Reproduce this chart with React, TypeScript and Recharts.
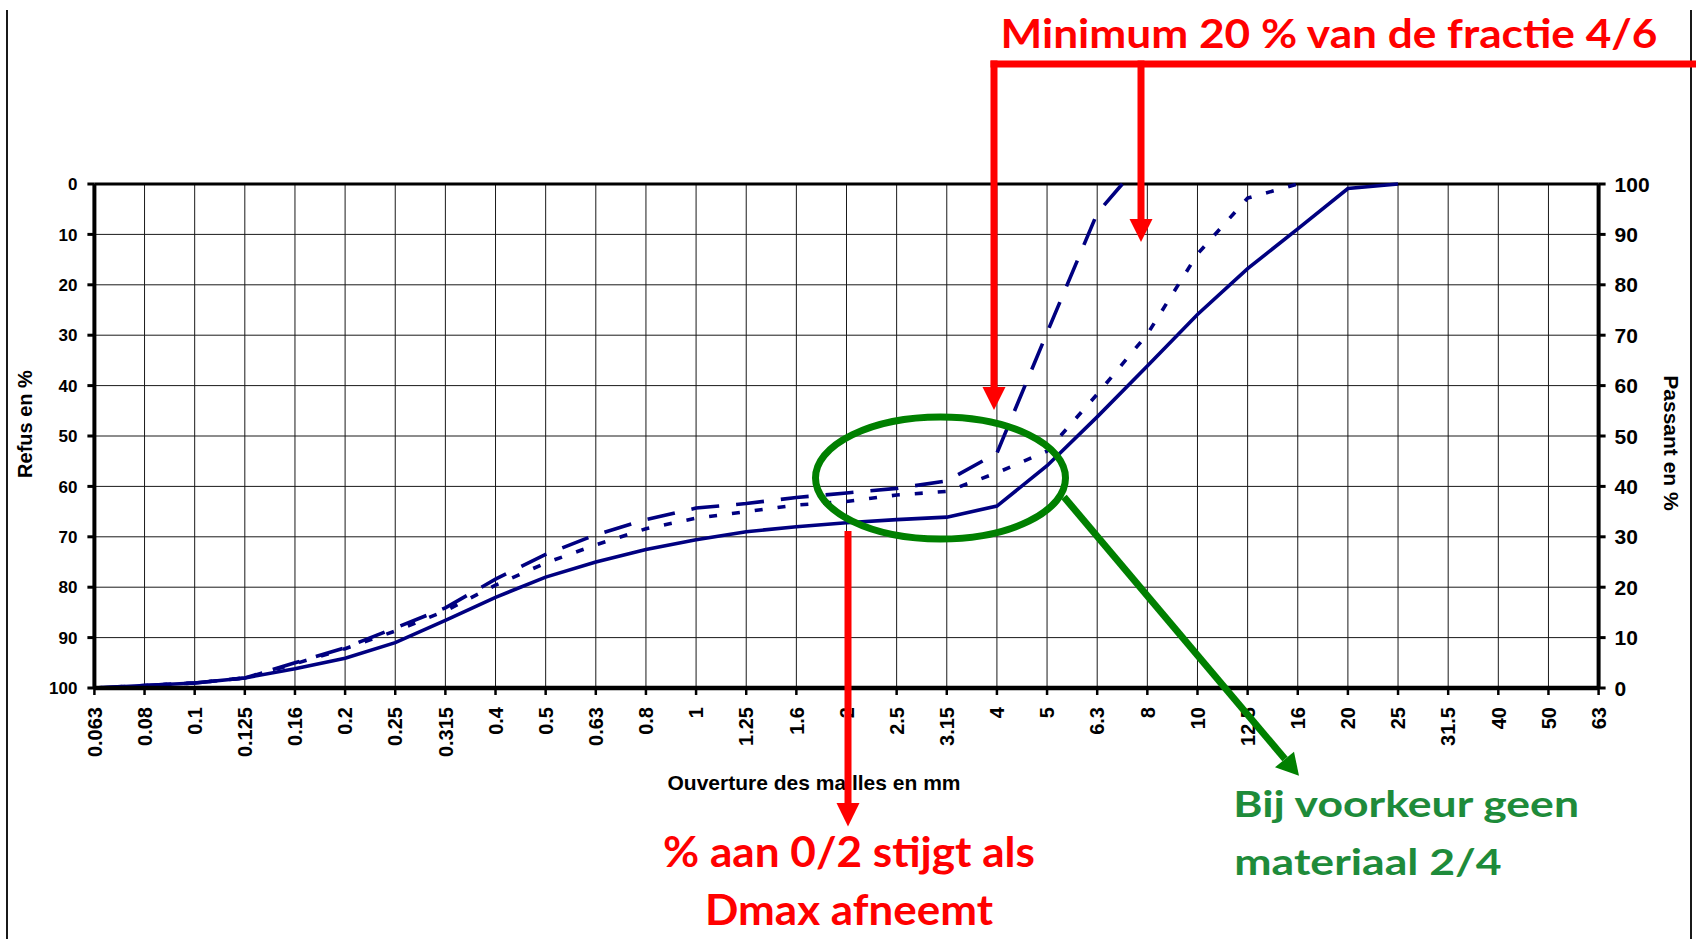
import React from 'react';
import { LineChart, Line, XAxis, YAxis, CartesianGrid, ReferenceLine, Label } from 'recharts';

// Sieve openings (mm) — categories of the x axis, equally spaced (log series)
const sieveLabels = ['0.063', '0.08', '0.1', '0.125', '0.16', '0.2', '0.25', '0.315', '0.4', '0.5', '0.63', '0.8', '1', '1.25', '1.6', '2', '2.5', '3.15', '4', '5', '6.3', '8', '10', '12.5', '16', '20', '25', '31.5', '40', '50', '63'];

// Passing (%) per sieve
const passSolid = [0, 0.5, 1, 2, 3.8, 5.9, 9, 13.4, 18, 22, 25, 27.5, 29.4, 31, 32, 32.8, 33.4, 33.9, 36.1, 44.1, 53.8, 63.9, 74.1, 83.2, 91.1, 99.1, 100];
const passDashed = [0, 0.5, 1, 2, 5, 8, 11.9, 15.9, 21.6, 26.5, 30.4, 33.4, 35.7, 36.6, 37.8, 38.7, 39.6, 41.1, 46.6, 70.5, 94.2];
const passDotted = [0, 0.5, 1, 2, 4.8, 7.8, 11.3, 15.3, 20.4, 24.8, 28.4, 31.6, 33.7, 35, 36.3, 37, 38.3, 39, 42.7, 47, 58.3, 70.2, 86.1, 97.2, 100];
// the dashed curve reaches 100 % between 6.3 and 8 mm
const dashedEndMm = 7.1;
const dashedEndPass = 100;

// left axis shows "refus" (= 100 - passant), right axis shows "passant"
const refusTicks = [0, 10, 20, 30, 40, 50, 60, 70, 80, 90, 100];
const passTicks = [0, 10, 20, 30, 40, 50, 60, 70, 80, 90, 100];

const sieveIndexTicks = sieveLabels.map((_, i) => i);
const toIndex = (mm: number) => {
  const v = sieveLabels.map(Number);
  for (let i = 0; i < v.length - 1; i++) {
    if (mm >= v[i] && mm <= v[i + 1]) return i + Math.log(mm / v[i]) / Math.log(v[i + 1] / v[i]);
  }
  return v.length - 1;
};

const solidData = passSolid.map((p, i) => ({ x: i, p }));
const dashedData = [...passDashed.map((p, i) => ({ x: i, p })), { x: toIndex(dashedEndMm), p: dashedEndPass }];
const dottedData = passDotted.map((p, i) => ({ x: i, p }));

const AX_FONT = "'Liberation Sans', Arial, sans-serif";
const ANN_FONT = "Lato, 'Open Sans', sans-serif";
const NAVY = '#000080';
const RED = '#FF0000';
const GREEN = '#008000';
const GREEN_TXT = '#1E8B3A';

const XTick = (props: any) => {
  const { x, y, payload } = props;
  return (
    <g transform={`translate(${x},${y})`}>
      <text transform="rotate(-90)" x={0} y={0} dy="0.36em" textAnchor="end" fontFamily={AX_FONT} fontWeight="bold" fontSize={20} fill="#000">
        {sieveLabels[payload.value]}
      </text>
    </g>
  );
};

const LeftTick = (props: any) => {
  const { x, y, payload } = props;
  return (
    <text x={x} y={y} dy="0.36em" textAnchor="end" fontFamily={AX_FONT} fontWeight="bold" fontSize={17} fill="#000">
      {100 - payload.value}
    </text>
  );
};

const RightTick = (props: any) => {
  const { x, y, payload } = props;
  return (
    <text x={x} y={y} dy="0.36em" textAnchor="start" fontFamily={AX_FONT} fontWeight="bold" fontSize={21} fill="#000">
      {payload.value}
    </text>
  );
};

export default function App() {
  return (
    <div style={{ position: 'absolute', left: 0, top: 0, width: 1696, height: 939, background: '#fff', overflow: 'hidden' }}>
      <LineChart width={1696} height={939} margin={{ top: 184, right: 37.4, bottom: 191, left: 34.4 }}>
        <CartesianGrid yAxisId="right" stroke="#1a1a1a" strokeWidth={1} />
        <XAxis
          type="number"
          dataKey="x"
          domain={[0, 30]}
          ticks={sieveIndexTicks}
          interval={0}
          height={60}
          tick={<XTick />}
          tickSize={7}
          tickMargin={12}
          tickLine={{ stroke: '#000', strokeWidth: 2.5 }}
          axisLine={{ stroke: '#000', strokeWidth: 4.5 }}
        >
          <Label
            content={() => (
              <text x={814} y={790} textAnchor="middle" fontFamily={AX_FONT} fontWeight="bold" fontSize={21} fill="#000">
                Ouverture des mailles en mm
              </text>
            )}
          />
        </XAxis>
        <YAxis
          yAxisId="left"
          orientation="left"
          domain={[0, 100]}
          ticks={refusTicks}
          interval={0}
          width={60}
          tick={<LeftTick />}
          tickSize={7}
          tickMargin={10}
          tickLine={{ stroke: '#000', strokeWidth: 3 }}
          axisLine={{ stroke: '#000', strokeWidth: 4 }}
        >
          <Label
            content={() => (
              <text transform="translate(25,424) rotate(-90)" x={0} y={0} dy="0.36em" textAnchor="middle" fontFamily={AX_FONT} fontWeight="bold" fontSize={20} fill="#000">
                Refus en %
              </text>
            )}
          />
        </YAxis>
        <YAxis
          yAxisId="right"
          orientation="right"
          domain={[0, 100]}
          ticks={passTicks}
          interval={0}
          width={60}
          tick={<RightTick />}
          tickSize={7}
          tickMargin={9}
          tickLine={{ stroke: '#000', strokeWidth: 3 }}
          axisLine={{ stroke: '#000', strokeWidth: 4 }}
        >
          <Label
            content={() => (
              <text transform="translate(1671.5,443) rotate(90)" x={0} y={0} dy="0.36em" textAnchor="middle" fontFamily={AX_FONT} fontWeight="bold" fontSize={21} fill="#000">
                Passant en %
              </text>
            )}
          />
        </YAxis>
        <ReferenceLine yAxisId="right" y={100} stroke="#000" strokeWidth={3} />
        <Line yAxisId="right" data={dottedData} dataKey="p" type="linear" stroke={NAVY} strokeWidth={3.6} strokeDasharray="8 15" dot={false} isAnimationActive={false} />
        <Line yAxisId="right" data={dashedData} dataKey="p" type="linear" stroke={NAVY} strokeWidth={3.6} strokeDasharray="28 17" dot={false} isAnimationActive={false} />
        <Line yAxisId="left" data={solidData} dataKey="p" type="linear" stroke={NAVY} strokeWidth={3.6} dot={false} isAnimationActive={false} />
      </LineChart>

      <svg width={1696} height={939} style={{ position: 'absolute', left: 0, top: 0, pointerEvents: 'none' }}>
        {/* slide frame */}
        <line x1={7} y1={10} x2={7} y2={939} stroke="#000" strokeWidth={1.8} />
        <line x1={1691} y1={10} x2={1691} y2={939} stroke="#000" strokeWidth={1.8} />

        {/* red top annotation */}
        <text x={1000.5} y={47.7} textLength={657} lengthAdjust="spacingAndGlyphs" fontFamily={ANN_FONT} fontWeight="bold" fontSize={41} fill={RED}>
          Minimum 20 % van de fractie 4/6
        </text>
        <rect x={990.5} y={60.5} width={705.5} height={7} fill={RED} />
        <rect x={990.5} y={60.5} width={7} height={328} fill={RED} />
        <polygon points="982.5,387 1005.5,387 994,410" fill={RED} />
        <rect x={1137.5} y={60.5} width={7} height={159} fill={RED} />
        <polygon points="1129.5,219 1152.5,219 1141,242" fill={RED} />

        {/* red bottom annotation */}
        <rect x={844.5} y={531} width={7} height={273} fill={RED} />
        <polygon points="836.5,803 859.5,803 848,826.5" fill={RED} />
        <text x={849} y={867.3} textAnchor="middle" textLength={372} lengthAdjust="spacingAndGlyphs" fontFamily={ANN_FONT} fontWeight="bold" fontSize={42} fill={RED}>
          % aan 0/2 stijgt als
        </text>
        <text x={849} y={925} textAnchor="middle" textLength={288} lengthAdjust="spacingAndGlyphs" fontFamily={ANN_FONT} fontWeight="bold" fontSize={42} fill={RED}>
          Dmax afneemt
        </text>

        {/* green annotation */}
        <ellipse cx={940.5} cy={478} rx={125} ry={61} fill="none" stroke={GREEN} strokeWidth={7} />
        <line x1={1064} y1={497} x2={1285} y2={759} stroke={GREEN} strokeWidth={7} />
        <polygon points="1275,767.3 1294,751.7 1299,775.7" fill={GREEN} />
        <text x={1233.3} y={816.7} textLength={345.7} lengthAdjust="spacingAndGlyphs" fontFamily={ANN_FONT} fontWeight="bold" fontSize={37} fill={GREEN_TXT}>
          Bij voorkeur geen
        </text>
        <text x={1234.3} y={875} textLength={267.4} lengthAdjust="spacingAndGlyphs" fontFamily={ANN_FONT} fontWeight="bold" fontSize={37} fill={GREEN_TXT}>
          materiaal 2/4
        </text>
      </svg>
    </div>
  );
}
